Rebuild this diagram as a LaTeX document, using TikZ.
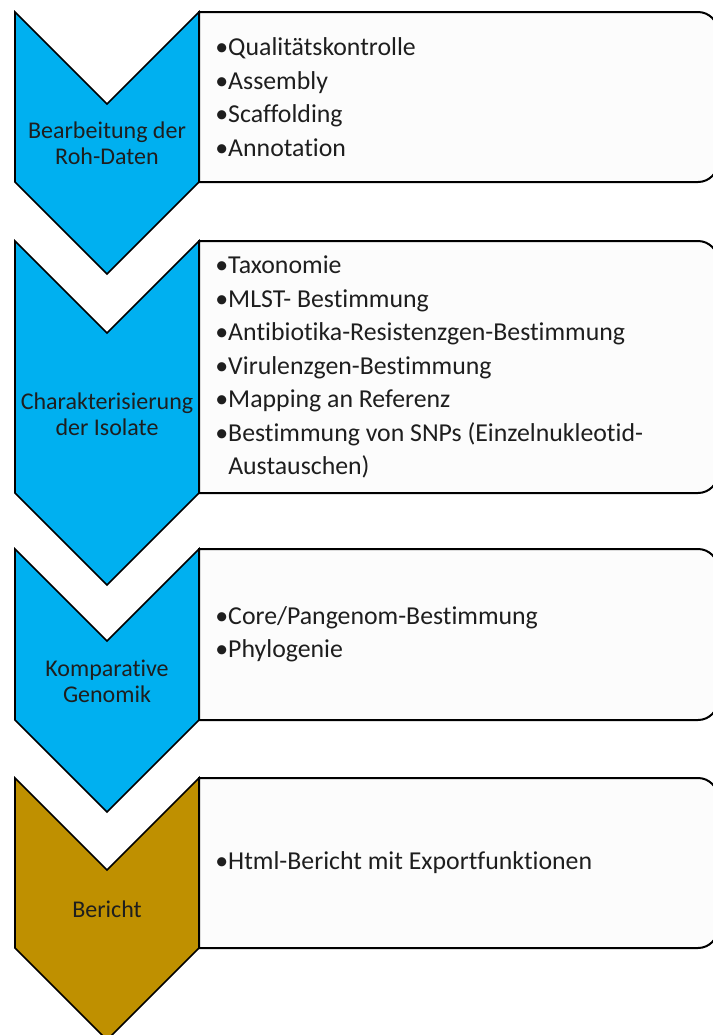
\documentclass[tikz,border=0pt]{standalone}
\usepackage{fontspec}
\setmainfont{Carlito}[Ligatures=NoCommon]
\definecolor{stepblue}{RGB}{0,176,240}
\definecolor{stepgold}{RGB}{191,144,0}
\definecolor{boxfill}{RGB}{252,252,252}
\definecolor{txtgray}{RGB}{30,30,30}

\begin{document}
\begin{tikzpicture}[x=0.5pt, y=-0.5pt,
    chevron/.style={draw=black, line width=0.8pt, line join=miter},
    listbox/.style={draw=black, line width=1pt, fill=boxfill},
    phase/.style={align=center, font=\fontsize{12}{13}\selectfont, text=txtgray, inner sep=0pt},
    items/.style={align=left, anchor=west, font=\fontsize{12.9}{16.75}\selectfont, text=txtgray, inner sep=0pt}]
    \useasboundingbox (0,0) rectangle (713,1035);
    \clip (0,0) rectangle (713,1035);

    % Boxes with the work steps
    \draw[listbox] (199,12) -- (698,12) arc[start angle=90, end angle=0, radius=10pt]
        -- (718,162) arc[start angle=0, end angle=-90, radius=10pt] -- (199,182) -- cycle;
    \draw[listbox] (199,241) -- (698,241) arc[start angle=90, end angle=0, radius=10pt]
        -- (718,473) arc[start angle=0, end angle=-90, radius=10pt] -- (199,493) -- cycle;
    \draw[listbox] (199,549) -- (698,549) arc[start angle=90, end angle=0, radius=10pt]
        -- (718,700) arc[start angle=0, end angle=-90, radius=10pt] -- (199,720) -- cycle;
    \draw[listbox] (199,778) -- (698,778) arc[start angle=90, end angle=0, radius=10pt]
        -- (718,928) arc[start angle=0, end angle=-90, radius=10pt] -- (199,948) -- cycle;

    % Chevrons
    \draw[chevron, fill=stepblue] (15,12) -- (107,104) -- (199,12) -- (199,182)
        -- (107,274) -- (15,182) -- cycle;
    \draw[chevron, fill=stepblue] (15,241) -- (107,333) -- (199,241) -- (199,493)
        -- (107,585) -- (15,493) -- cycle;
    \draw[chevron, fill=stepblue] (15,549) -- (107,641) -- (199,549) -- (199,720)
        -- (107,812) -- (15,720) -- cycle;
    \draw[chevron, fill=stepgold] (15,778) -- (107,870) -- (199,778) -- (199,948)
        -- (107,1040) -- (15,948) -- cycle;

    % Phase labels
    \node[phase] (raw) at (107,143) {Bearbeitung der\\Roh-Daten};
    \node[phase] (char) at (107,414) {Charakterisierung\\der Isolate};
    \node[phase] (comp) at (107,681) {Komparative\\Genomik};
    \node[phase] (report) at (107,909) {Bericht};

    % Lists
    \node[items] (rawlist) at (215,97) {•Qualitätskontrolle\\•Assembly\\•Scaffolding\\•Annotation};
    \node[items] (charlist) at (215,367) {•Taxonomie\\•MLST- Bestimmung\\•Antibiotika-Resistenzgen-Bestimmung\\•Virulenzgen-Bestimmung\\•Mapping an Referenz\\•Bestimmung von SNPs (Einzelnukleotid-\\\phantom{•}Austauschen)};
    \node[items] (complist) at (215,634) {•Core/Pangenom-Bestimmung\\•Phylogenie};
    \node[items] (reportlist) at (215,863) {•Html-Bericht mit Exportfunktionen};
\end{tikzpicture}
\end{document}
